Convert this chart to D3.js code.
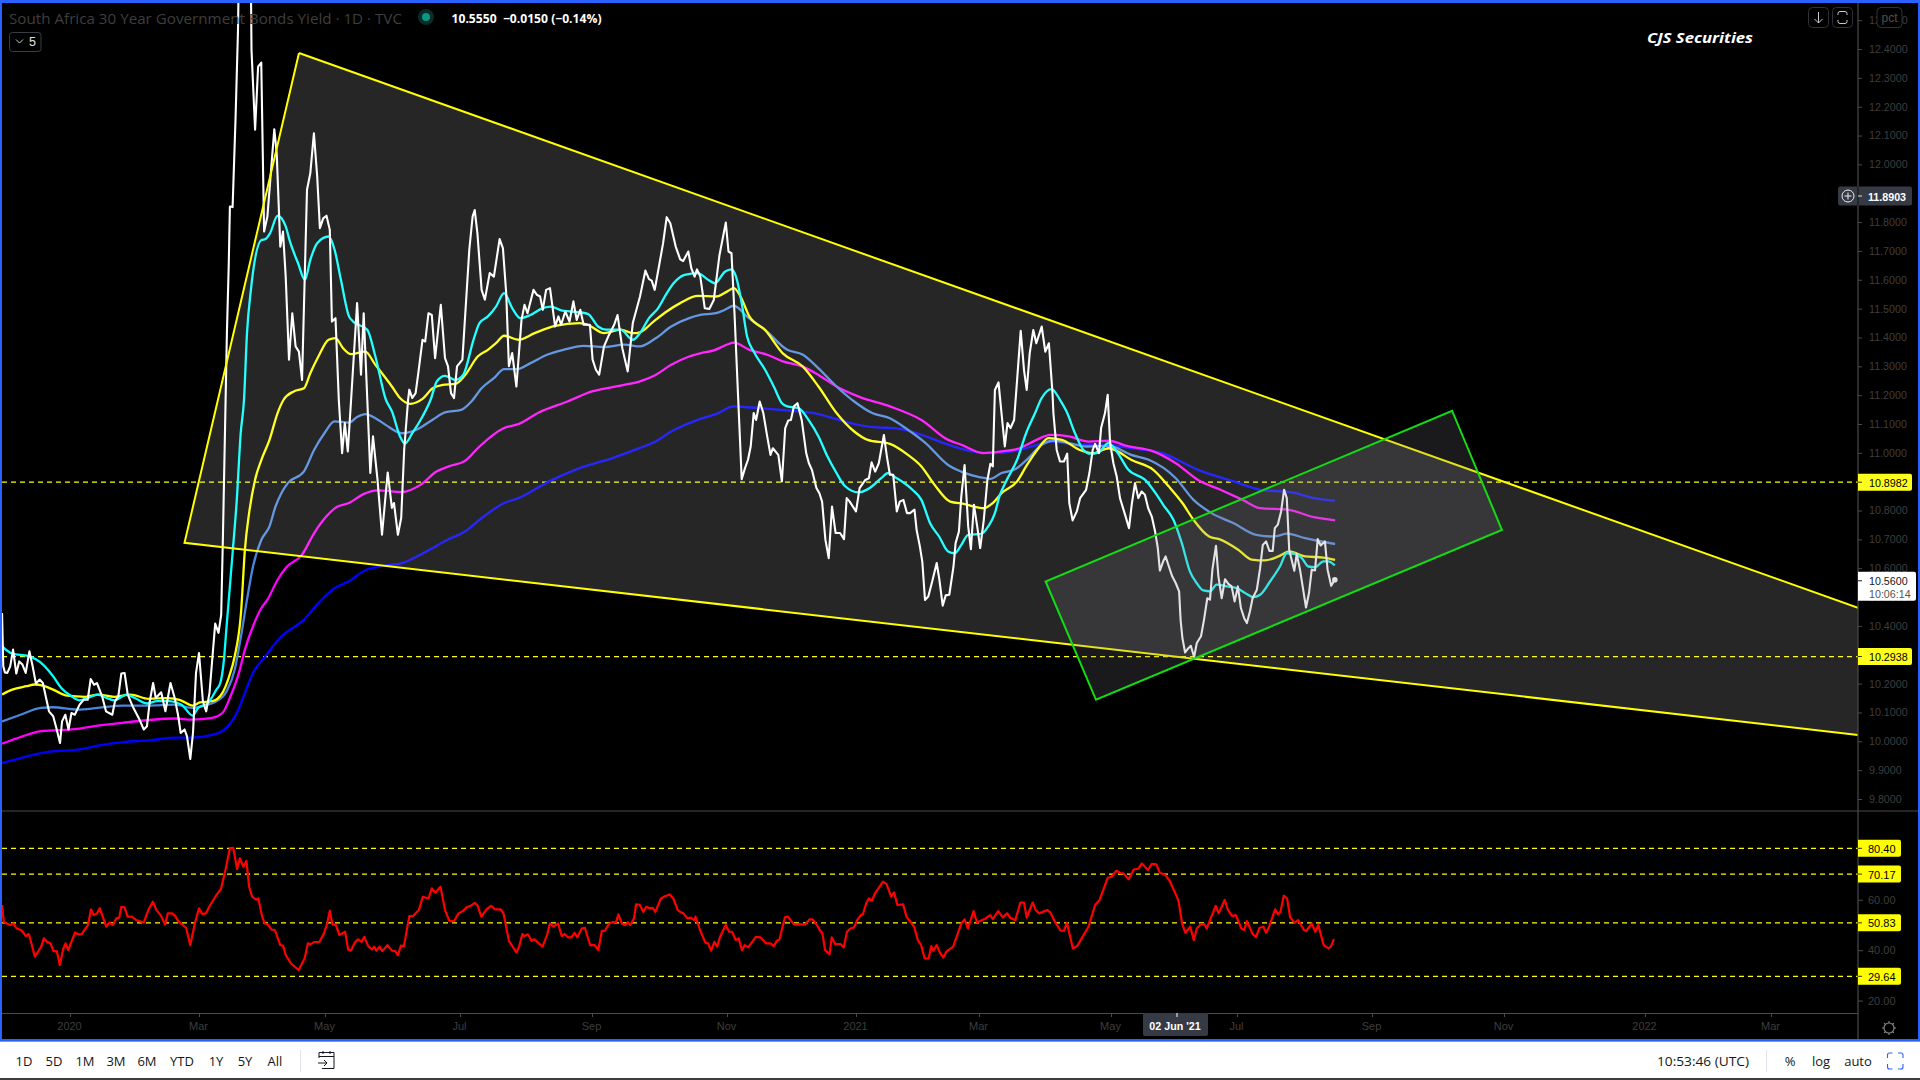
<!DOCTYPE html>
<html><head><meta charset="utf-8"><title>South Africa 30 Year Government Bonds Yield</title>
<script src="https://cdn.jsdelivr.net/npm/d3@7"></script>
<style>html,body{margin:0;padding:0;background:#000;overflow:hidden}svg{display:block}</style>
</head><body><svg id="c" width="1920" height="1080"></svg>
<script>
// ---- data: [bar index, value] ----
const closeYield=[[-.65,10.445],[-.24,10.26],[.3,10.239],[1.1,10.237],[2.07,10.26],[3.02,10.318],[4.1,10.235],[5.07,10.277],[6.15,10.266],[7.24,10.237],[8.46,10.312],[9.55,10.26],[10.64,10.2],[11.87,10.214],[12.95,10.202],[13.9,10.156],[15,10.104],[16.4,10.087],[17.45,10.046],[18.67,9.994],[19.35,10.069],[20.44,10.092],[21.5,10.041],[22.5,10.098],[23.6,10.092],[25.2,10.127],[26.56,10.144],[27.9,10.144],[28.9,10.216],[30,10.196],[31,10.202],[32.7,10.156],[34,10.104],[36.1,10.092],[37,10.139],[38.1,10.156],[39.1,10.235],[40.2,10.237],[41.25,10.162],[42.9,10.121],[44.9,10.081],[46.6,10.041],[47.65,10.052],[48.6,10.139],[49.7,10.202],[50.6,10.15],[52.4,10.17],[53.8,10.104],[55.5,10.202],[56.9,10.15],[58,10.092],[58.9,10.029],[60.2,10.041],[61,10.017],[62.1,9.939],[63,10.029],[64,10.237],[65,10.306],[66.3,10.139],[67.4,10.104],[68.5,10.168],[70.4,10.408],[71.5,10.376],[72.4,10.439],[73,10.722],[74.3,11.415],[74.9,11.646],[75.3,11.854],[76.2,11.852],[77.2,12.166],[78,12.466],[78.3,12.685],[80.3,12.916],[82.3,12.628],[82.5,12.397],[83.7,12.12],[84.7,12.339],[85.75,12.353],[86.7,11.767],[87.8,11.819],[90.1,12.122],[90.9,12.039],[92.1,11.715],[93,11.767],[93.9,11.611],[95,11.323],[96.1,11.484],[97.2,11.369],[98.3,11.351],[99.35,11.253],[101,11.912],[102.1,11.969],[103.3,12.108],[104.4,11.958],[105.3,11.779],[106.4,11.813],[107.5,11.822],[108.6,11.773],[109.3,11.455],[110.5,11.467],[111.6,11.184],[112.7,10.999],[113.6,11.103],[114.6,11.005],[115.7,11.184],[117.7,11.519],[119,11.271],[119.9,11.484],[121.1,11.184],[122.1,10.93],[123,11.057],[124.5,10.907],[126,10.716],[127.9,10.932],[129.3,10.809],[130,10.826],[131.3,10.716],[132.4,10.774],[133.4,11.011],[134.7,11.184],[135.1,11.219],[136.1,11.19],[137.2,11.207],[138.1,11.276],[139.5,11.392],[140.4,11.386],[141.5,11.484],[142.6,11.478],[143.7,11.328],[145.6,11.513],[147,11.328],[148,11.3],[149,11.207],[150,11.19],[151,11.3],[152.8,11.323],[155.1,11.704],[156.2,11.819],[156.9,11.842],[157.8,11.762],[159.2,11.565],[160.3,11.531],[161.9,11.623],[163.3,11.611],[165.2,11.741],[166.3,11.71],[167.4,11.554],[168.3,11.3],[169.4,11.346],[170.8,11.23],[172.5,11.461],[173.5,11.513],[174.5,11.484],[176.5,11.565],[177.6,11.548],[178.7,11.542],[179.6,11.496],[180.7,11.565],[182,11.571],[183.7,11.438],[184.8,11.473],[185.7,11.444],[187.1,11.49],[188.5,11.455],[189.8,11.525],[190.9,11.461],[192.1,11.496],[193.2,11.444],[195.3,11.444],[196.2,11.323],[197.3,11.288],[198.4,11.271],[200,11.369],[201.4,11.403],[203.4,11.444],[204.5,11.478],[206.1,11.363],[207.9,11.282],[209.6,11.45],[212,11.542],[213.8,11.632],[215,11.602],[215.9,11.597],[216.9,11.565],[218.4,11.651],[219.7,11.727],[220.9,11.817],[222.1,11.796],[223.9,11.715],[225.4,11.671],[226.4,11.665],[228.1,11.698],[229.1,11.64],[230.2,11.611],[231,11.636],[232.1,11.611],[233.6,11.501],[235.1,11.499],[236.6,11.53],[238.5,11.686],[240.6,11.798],[241.5,11.698],[242.5,11.692],[243.5,11.484],[244.7,11.195],[245.9,10.909],[247,10.947],[248,10.976],[248.9,11.022],[249.9,11.138],[250.7,11.114],[251.9,11.178],[253.1,11.138],[254.4,11.057],[255.5,10.993],[256.3,11.016],[258.1,10.993],[259.3,10.901],[260.4,11.086],[261.4,11.112],[262.3,11.114],[263.3,11.161],[264.5,11.172],[265.9,11.114],[267.4,10.999],[268.3,10.964],[269.3,10.941],[270.8,10.878],[271.8,10.86],[272.7,10.831],[273.8,10.699],[274.9,10.635],[276,10.814],[277.2,10.722],[278.7,10.722],[280,10.701],[280.9,10.843],[281.9,10.831],[284,10.797],[285.2,10.878],[287.1,10.906],[288.3,10.912],[289.2,10.967],[290.4,10.935],[291.6,10.964],[293.3,11.062],[294.3,10.987],[295.3,10.924],[296.4,10.924],[297.6,10.797],[298.6,10.831],[299.8,10.837],[301,10.791],[302,10.791],[303.5,10.803],[304.2,10.733],[305.3,10.675],[306.1,10.623],[307,10.49],[308.1,10.502],[309.4,10.554],[310.9,10.618],[311.8,10.56],[312.9,10.47],[313.9,10.506],[315.1,10.508],[316.5,10.606],[317.2,10.687],[318.3,10.727],[319.1,10.849],[320.2,10.958],[321.4,10.745],[322.3,10.666],[323.3,10.82],[324.4,10.745],[325.4,10.67],[326.6,10.768],[327.8,10.906],[328.8,10.962],[329.6,10.953],[330.3,11.218],[331.5,11.244],[332.5,11.138],[333.6,11.022],[334.5,11.103],[335.5,11.086],[336.7,11.114],[337.7,11.253],[338.9,11.423],[340,11.288],[340.9,11.218],[341.9,11.345],[343.1,11.426],[344.1,11.38],[345.9,11.438],[347.1,11.351],[348.3,11.38],[349.5,11.207],[349.8,11.138],[350.9,11.01],[352,10.97],[353.3,10.97],[354.4,10.997],[355.1,10.826],[356.2,10.766],[357.6,10.797],[358.7,10.843],[360.7,10.872],[361.8,10.93],[362.9,11.01],[363.7,11.031],[365,10.999],[365.7,11.086],[367,11.138],[367.9,11.201],[368.7,11.034],[369.8,10.964],[370.9,10.918],[372,10.843],[373.7,10.785],[375,10.739],[375.9,10.82],[377,10.895],[378.1,10.843],[379.2,10.866],[380.3,10.855],[381.4,10.808],[382.6,10.779],[383.7,10.727],[384.6,10.67],[385.3,10.592],[386.4,10.624],[387.2,10.641],[388.1,10.612],[389.4,10.572],[390.6,10.548],[391.7,10.52],[392.2,10.421],[392.8,10.358],[393.7,10.308],[394.8,10.323],[395.6,10.331],[396.7,10.292],[397.6,10.341],[399,10.364],[400,10.421],[401.1,10.496],[402,10.491],[402.8,10.595],[404,10.678],[404.8,10.572],[405.9,10.496],[407,10.562],[408.1,10.546],[409.2,10.537],[410.2,10.485],[411.3,10.537],[412.3,10.462],[413.4,10.427],[414.3,10.41],[415.3,10.45],[416.2,10.496],[417.6,10.525],[418.7,10.6],[419.6,10.681],[420.7,10.693],[421.8,10.66],[422.9,10.66],[423.6,10.739],[424.6,10.751],[425.7,10.797],[426.7,10.872],[427.6,10.843],[428.4,10.664],[429.2,10.629],[430.1,10.591],[430.9,10.65],[432,10.595],[434,10.464],[435,10.514],[435.9,10.595],[437,10.592],[437.9,10.701],[438.9,10.679],[440.3,10.693],[441.2,10.595],[442.4,10.539],[443.6,10.56]];
const maCyan=[[-.65,10.329],[2.75,10.304],[8.2,10.295],[13,10.266],[16.4,10.225],[19.1,10.185],[22.5,10.156],[25.2,10.142],[27.9,10.15],[31.3,10.162],[34.3,10.15],[36.8,10.142],[40.8,10.162],[43.6,10.15],[47.6,10.131],[51,10.139],[55.1,10.139],[59.2,10.127],[62.9,10.089],[64.7,10.116],[68,10.133],[70.8,10.179],[72.1,10.202],[73.2,10.272],[74.2,10.399],[76.2,10.653],[77.6,10.838],[78.9,11.068],[80,11.184],[81,11.415],[82.3,11.565],[85.8,11.738],[87.1,11.741],[88.7,11.762],[91.2,11.822],[92.5,11.813],[93.9,11.785],[95.3,11.733],[98,11.658],[100.3,11.6],[102.1,11.669],[104.4,11.727],[108.2,11.75],[110.2,11.704],[112.3,11.6],[115,11.473],[116.4,11.455],[121.1,11.427],[123.8,11.334],[127.3,11.184],[129.3,11.144],[132,11.057],[133.6,11.032],[136.1,11.068],[139.5,11.126],[142.2,11.184],[144.3,11.248],[147,11.267],[150.4,11.253],[153.1,11.271],[156.5,11.392],[158.5,11.45],[161.3,11.473],[164,11.507],[166.7,11.554],[169.4,11.502],[172.1,11.467],[175.5,11.478],[179.6,11.502],[182.3,11.507],[185.7,11.494],[189.1,11.49],[194.6,11.482],[198,11.438],[200.7,11.427],[205.5,11.427],[209.6,11.392],[212,11.415],[215,11.467],[218,11.501],[220.9,11.553],[223.2,11.588],[226.9,11.617],[231.3,11.623],[234.3,11.603],[237,11.588],[240.3,11.628],[242.5,11.636],[244,11.611],[245.9,11.519],[247.7,11.403],[249.9,11.351],[253.7,11.288],[256.6,11.23],[259.3,11.172],[261.1,11.161],[264.8,11.155],[268.5,11.109],[271.5,11.057],[274.5,10.987],[277.5,10.93],[280.2,10.886],[284.9,10.863],[288.6,10.878],[292.4,10.912],[294.6,10.93],[297.6,10.912],[302.8,10.872],[305.8,10.837],[308.7,10.756],[311.7,10.71],[314.7,10.658],[316.9,10.652],[319.1,10.681],[321.4,10.716],[325.8,10.719],[328.1,10.745],[330.3,10.791],[331.8,10.849],[334,10.901],[337.7,10.976],[340.7,11.068],[343.7,11.138],[345.9,11.19],[349.2,11.221],[352,11.184],[354.2,11.143],[357,11.068],[359.8,11.01],[362,10.997],[364.8,11.001],[368.1,11.034],[370.9,11.005],[374.8,10.941],[380.3,10.907],[384.2,10.855],[386.4,10.82],[389.8,10.768],[392.6,10.687],[395.3,10.589],[397.6,10.548],[399.8,10.523],[402,10.52],[404.2,10.543],[407.6,10.537],[410.9,10.531],[413.7,10.514],[416.4,10.5],[418.7,10.508],[422,10.554],[425.3,10.606],[427.6,10.652],[430.3,10.65],[432.6,10.635],[434.8,10.606],[437,10.604],[439.8,10.624],[441.4,10.624],[443.6,10.61]];
const maYellow=[[-.65,10.162],[2.75,10.179],[7.5,10.191],[10.2,10.197],[13,10.193],[16.4,10.179],[21.1,10.158],[27.2,10.154],[31.3,10.162],[36.8,10.154],[42.2,10.162],[48.3,10.147],[54.5,10.15],[58.5,10.144],[63,10.124],[65.3,10.135],[69.4,10.139],[72.8,10.168],[74.9,10.22],[76.9,10.295],[79,10.445],[80.3,10.664],[81.7,10.791],[83.7,10.907],[85.8,10.976],[88.5,11.045],[91.2,11.138],[93.2,11.184],[96.6,11.213],[100,11.224],[102.1,11.276],[104.8,11.334],[108.2,11.392],[110.5,11.398],[113,11.363],[115.7,11.342],[120.4,11.351],[123.8,11.305],[129.3,11.23],[132,11.19],[135.4,11.17],[139.5,11.187],[142.9,11.224],[146.3,11.236],[150.4,11.239],[153.8,11.271],[157.9,11.334],[161.3,11.357],[164,11.38],[166.7,11.406],[171.5,11.392],[176.9,11.415],[183.7,11.44],[191.9,11.45],[194.6,11.444],[200,11.415],[205.5,11.427],[209.6,11.415],[212,11.418],[216.5,11.455],[220.9,11.49],[225.4,11.519],[231.3,11.544],[237.3,11.542],[241,11.559],[243.3,11.571],[245.5,11.542],[248.5,11.472],[253.7,11.426],[259.6,11.345],[266.3,11.299],[271.5,11.23],[277.5,11.138],[283.4,11.074],[287.9,11.045],[295.3,11.031],[301.3,10.993],[305.8,10.953],[310.2,10.889],[315.4,10.831],[319.9,10.823],[326.6,10.808],[329.6,10.826],[332.5,10.86],[337.7,10.901],[340.7,10.953],[344.4,11.01],[348.2,11.051],[352.6,11.045],[358.6,11.01],[363,10.999],[368.3,11.016],[371.2,11.005],[375.7,10.976],[383.1,10.941],[388.3,10.883],[392.8,10.826],[396.5,10.768],[401.7,10.71],[405.5,10.699],[411.4,10.664],[415.9,10.63],[420.3,10.627],[424.8,10.641],[428.5,10.658],[433.7,10.641],[439.7,10.637],[443.7,10.629]];
const maSteel=[[-.65,10.069],[5.5,10.092],[12.3,10.116],[16.4,10.118],[24.5,10.11],[31.3,10.116],[39.5,10.124],[47.65,10.124],[57.2,10.127],[62.6,10.116],[66.7,10.124],[70.8,10.139],[74.2,10.173],[76.9,10.248],[79,10.364],[81,10.491],[83,10.606],[85.8,10.699],[88.5,10.745],[90.5,10.814],[92.5,10.861],[94.6,10.895],[100,10.936],[103.4,11.011],[106.8,11.068],[110.2,11.109],[115,11.105],[117.7,11.124],[120.4,11.134],[123.8,11.12],[127.2,11.097],[132.7,11.068],[137.4,11.08],[142.9,11.115],[147,11.14],[152.4,11.149],[155.8,11.178],[159.2,11.224],[163.3,11.259],[166.7,11.29],[170.8,11.29],[175.5,11.311],[181,11.34],[186.4,11.357],[193.2,11.371],[200,11.367],[206.8,11.375],[212,11.369],[217.2,11.397],[222.4,11.438],[228.4,11.467],[232.1,11.478],[237.3,11.484],[240.3,11.496],[243.3,11.51],[247.7,11.472],[253.7,11.426],[261.1,11.357],[266.3,11.34],[271.5,11.293],[277.5,11.23],[283.4,11.178],[289.4,11.138],[295.3,11.12],[301.3,11.08],[307.2,11.034],[314.7,10.958],[319.1,10.935],[325.1,10.916],[328.8,10.91],[332.5,10.93],[337,10.943],[341.5,10.982],[345.9,11.028],[349.6,11.042],[354.9,11.034],[360.8,11.022],[368.3,11.024],[375.7,10.993],[381.6,10.976],[390.6,10.912],[396.5,10.837],[402.5,10.791],[409.9,10.756],[417.4,10.716],[423.3,10.71],[427.8,10.72],[433.7,10.704],[443.7,10.684]];
const maMagenta=[[-.65,9.992],[5.5,10.015],[12.3,10.035],[24.5,10.043],[31.3,10.054],[39.5,10.064],[47.65,10.073],[57.2,10.079],[62.6,10.075],[69.4,10.081],[72.8,10.098],[75.5,10.156],[78.3,10.237],[80.3,10.318],[83,10.399],[85.8,10.462],[87.8,10.491],[91.2,10.56],[93.9,10.601],[99.35,10.647],[103.4,10.722],[107.5,10.78],[110.9,10.812],[115,10.826],[119.8,10.857],[124.5,10.87],[132.7,10.864],[138.8,10.889],[144.3,10.936],[148.3,10.953],[153.8,10.973],[158.5,11.022],[166.7,11.086],[171.5,11.1],[178.3,11.14],[187.8,11.178],[196,11.213],[205.5,11.233],[212,11.248],[217.2,11.27],[222.4,11.305],[228.4,11.334],[232.1,11.345],[236.6,11.355],[240.3,11.372],[243.3,11.382],[248.5,11.357],[254.4,11.34],[259.6,11.317],[266.3,11.299],[271.5,11.27],[277.5,11.23],[284.9,11.195],[295.3,11.161],[305.8,11.114],[314.7,11.045],[319.1,11.028],[326.6,10.999],[332.5,11.005],[338.5,11.016],[343,11.039],[348.9,11.062],[354.9,11.057],[361.6,11.039],[368.3,11.042],[374.2,11.024],[383.1,11.005],[390.6,10.964],[398,10.906],[405.5,10.872],[412.9,10.837],[418.8,10.808],[427.8,10.803],[436.7,10.777],[443.7,10.766]];
const maBlue=[[-.65,9.925],[5.5,9.942],[13.6,9.962],[24.5,9.971],[31.3,9.985],[39.5,9.997],[49,10.004],[57.2,10.013],[62.6,10.013],[69.4,10.022],[73.5,10.041],[77.6,10.098],[80.3,10.168],[83,10.237],[87.1,10.295],[92.5,10.364],[100,10.422],[104.8,10.479],[110.2,10.531],[115,10.555],[120.4,10.593],[127.2,10.609],[132.7,10.618],[140.2,10.655],[148.3,10.701],[153.8,10.728],[158.5,10.768],[166.7,10.826],[171.5,10.843],[181.7,10.901],[191.9,10.947],[202.8,10.982],[212,11.017],[217.2,11.039],[222.4,11.074],[228.4,11.103],[232.1,11.118],[237.3,11.134],[243.3,11.161],[247.7,11.158],[261.1,11.147],[270,11.138],[277.5,11.117],[283.4,11.1],[290.9,11.088],[296.8,11.086],[304.3,11.068],[313.2,11.034],[319.1,11.014],[329.6,10.999],[338.5,11.01],[344.4,11.028],[349.6,11.039],[357.8,11.028],[366.8,11.028],[375.7,11.016],[386.1,10.999],[398,10.941],[409.9,10.901],[418.8,10.872],[429.3,10.863],[436.7,10.843],[443.7,10.834]];
const rsiValues=[[-.6,57.9],[-.1,51.3],[.9,50.6],[2,50],[3.1,50.6],[4.2,48.6],[5.7,48],[7.3,45.6],[8.3,46.4],[10.3,37.4],[12.4,41.4],[13.3,44.7],[14.3,43.3],[15.5,42.7],[16.5,39.6],[17.6,39.6],[18.6,34.1],[19.8,40.7],[20.5,42.7],[21.4,40],[23.7,47],[24.7,46.3],[25.9,46.4],[28,50],[29,56.2],[29.9,53.9],[31,54.6],[31.9,56.6],[34.1,49.3],[35.1,50.9],[36.3,50],[37.4,52.6],[38.4,52.9],[39.1,57.2],[40.2,57],[41.2,53.3],[42.6,53.3],[44.1,51.9],[46.6,51],[48.1,55.9],[49.6,59.2],[50.8,55.9],[52.2,53.9],[53.7,50.2],[54.6,54.6],[56,54.6],[57.1,53.5],[58.2,51.3],[60.7,48.9],[62.1,42],[63.6,50.6],[65,56.6],[66.1,54.3],[67.3,54.6],[68.6,57.6],[70.8,61.9],[72.3,64.2],[73.8,71.8],[75.3,80.4],[76.4,80.6],[77.7,72.2],[78.6,76.4],[79.8,73.1],[80.8,75.4],[81.7,65.2],[82.7,61.2],[84,60.1],[84.8,60.5],[86,53.5],[86.9,50.6],[88,50.2],[89.1,48.2],[90.3,48],[92.1,42],[93,41.8],[94,37.8],[95.7,34.7],[98.2,32.1],[100.2,36.7],[101.3,42.7],[102.1,42.3],[103.3,43.2],[105.2,43.3],[106.6,46.6],[107.6,50],[108.6,55.6],[109.5,50.2],[110.6,50],[111.8,46],[113.7,47.3],[114.7,40.3],[115.6,39.8],[117,43.1],[118,44.3],[119.2,43.3],[120.1,45.3],[121.4,41.6],[122.6,40.3],[123.4,41.4],[124.1,39.8],[125.2,41.4],[126.1,39.6],[127.8,42],[129.3,39.8],[130.4,39.6],[131.3,38],[132.3,41.8],[133.3,41.6],[135.1,53.5],[136.3,53.5],[138.3,55.9],[139.6,61.2],[141.5,60.5],[142.6,64.5],[143.8,62.8],[145.5,65.2],[147,55.9],[148.5,51.5],[150,51.5],[151.5,54.6],[153,55.5],[154.2,57],[155.4,57.5],[156.9,58.8],[157.9,57.6],[159.1,53.3],[160.9,56.3],[162.4,57.6],[163.6,56.2],[165.6,56.2],[166.5,54.6],[168.3,43.7],[170.8,39.1],[171.7,41.4],[172.8,46.4],[173.5,45.6],[174.7,46.3],[175.8,43.7],[176.8,44.3],[179.5,41.4],[181,46],[182,50.6],[183.2,49.3],[184.7,50.6],[185.9,45.6],[186.9,46.4],[188,45.1],[189.1,45.1],[190.2,46.9],[191.1,45.1],[192.6,48.6],[193.6,48.9],[195.4,42],[196.9,42],[198.1,40],[199.3,47.7],[200.3,47.7],[201.8,50.6],[202.8,51.1],[204,51],[204.8,54.2],[206,50.4],[207,50],[208,51],[208.8,50],[210,52.6],[210.7,58.2],[211.9,58],[213.1,55.2],[214.1,57.2],[215.2,56.6],[216.2,56.8],[217.1,55.2],[218.9,60.3],[220.1,61.3],[221.9,62.1],[223.1,60.5],[224.6,55.9],[225.6,55],[226.4,54.7],[227.8,52.6],[228.9,52.9],[230.1,51.9],[230.5,53.3],[232,48],[233.8,43],[234.7,42.7],[235.7,39.8],[236.8,43.3],[237.7,41.4],[238.7,45.3],[240.6,50],[241.7,47.3],[242.7,47.3],[243.9,44],[244.9,44.7],[246,40],[246.9,42],[248.1,41.1],[250.6,45.3],[252.1,45.1],[254,42.7],[255.5,42.7],[256.6,41.6],[257.6,43.7],[258.5,44.3],[260.3,53],[261.3,53.3],[263.3,50.2],[267,50.2],[268.5,52.2],[269.5,52.2],[271,50],[271.9,48],[272.8,46.6],[273.7,40],[275.2,38.4],[275.9,45.1],[277.1,42.4],[278.9,42.4],[279.9,41.1],[281,47.3],[282.1,48.6],[283.3,49],[284.4,51.9],[285.6,53.9],[286.3,54.2],[287.4,58.6],[288.3,60.5],[289.3,59.6],[290.3,62.5],[291.5,64.5],[293,67.2],[294.2,66.2],[295.7,61.2],[296.7,62.9],[297.8,57.9],[299.7,58.2],[300.8,53.3],[303.4,49.3],[304.6,44],[305.7,42],[306.9,36.7],[308.2,36.7],[309.1,41.6],[309.8,39.8],[310.9,42],[312.1,38.7],[313.1,37.1],[314.1,39.4],[316.4,41.4],[319.1,50.6],[320.2,52.2],[321.3,48.6],[323.2,55.5],[324.3,51],[327.2,52.6],[328.7,53.9],[329.6,52.3],[331.4,55.5],[332.9,53],[334.4,54.6],[335.4,52.9],[337.1,51.9],[338.8,58.9],[340,58.9],[340.9,52.9],[342.9,58.9],[343.9,55.9],[345.1,54.6],[347.8,55.9],[348.8,54.9],[350.3,51.3],[352.2,47.7],[353.3,47.7],[354.3,50.9],[356.3,40.7],[357.7,41.6],[361.5,49.3],[363.7,57.9],[365.2,59.9],[366.4,63.8],[367.9,68.7],[369.2,69.1],[370.8,71.5],[372.2,70.5],[373.1,70.5],[374.9,68.1],[376.6,72],[378.1,72.3],[379.3,74.4],[381.3,71.8],[382.6,74.2],[384.1,74],[385.3,70.7],[387.1,69.8],[388.5,67.6],[390.2,63.2],[391.5,59.6],[392.7,50.6],[393.8,46.9],[395.4,49.3],[396.6,44],[397.6,48.6],[399,50.4],[400.2,50.2],[400.9,48.6],[403.9,57.6],[404.9,54.6],[406.9,59.9],[408,55.9],[409.4,53.5],[410.6,53.9],[412.5,48.6],[413.4,48],[414.3,51.5],[416.2,46.4],[417.3,45.1],[418.5,48.9],[419.8,49.3],[420.7,46.9],[421.7,49.3],[423.7,56.2],[424.7,54.2],[425.5,55.2],[426.6,61.6],[427.7,60.5],[428.7,53],[430.2,50.9],[431.4,51.9],[433.3,48],[434.1,47.6],[435.9,50.6],[437.1,47.3],[438.1,50],[439.9,42],[441.5,40.7],[442.3,41.4],[443.3,44.4]];
const wedgePoints=[[98.33,12.386],[60.17,10.688],[618,10.022],[618,10.463]];
const channelPoints=[[347.2,10.554],[364,10.144],[499.3,10.733],[482.7,11.146]];
const priceLevels=[10.8982,10.2938];
const rsiLevels=[80.40,70.17,50.83,29.64];
const priceTicks=[9.8,9.9,10,10.1,10.2,10.3,10.4,10.5,10.6,10.7,10.8,10.9,11,11.1,11.2,11.3,11.4,11.5,11.6,11.7,11.8,11.9,12,12.1,12.2,12.3,12.4,12.5];
const rsiTicks=[20,40,60];
const timeTickBars=[22,65,107,152,196,241,284,325,369,411,456,500,547,589];
const timeTickLabels=["2020","Mar","May","Jul","Sep","Nov","2021","Mar","May","Jul","Sep","Nov","2022","Mar"];
const crossBar=391, crossPrice=11.8903, lastPrice=10.56;
const rangeButtons=[["1D",24],["5D",54],["1M",85],["3M",116],["6M",147],["YTD",182],["1Y",216],["5Y",245],["All",275]];

// ---- scales ----
const AX=1858, F="'Liberation Sans',Arial,sans-serif";
const x=d3.scaleLinear().domain([0,618]).range([4,AX]);
const y=d3.scaleLinear().domain([9.8,12.4]).range([799,49]);
const r=d3.scaleLinear().domain([29.64,80.4]).range([976.3,848.3]);
const svg=d3.select("#c");
svg.append("rect").attr("width",1920).attr("height",1080).attr("fill","#000");
const defs=svg.append("defs");
defs.append("clipPath").attr("id","mainClip").append("rect").attr("x",2).attr("y",3).attr("width",AX-2).attr("height",808);
defs.append("clipPath").attr("id","rsiClip").append("rect").attr("x",2).attr("y",812).attr("width",AX-2).attr("height",201);
const main=svg.append("g").attr("clip-path","url(#mainClip)");
const rsi=svg.append("g").attr("clip-path","url(#rsiClip)");
const lin=d3.line().x(d=>x(d[0])).y(d=>y(d[1]));
const smooth=d3.line().x(d=>x(d[0])).y(d=>y(d[1])).curve(d3.curveMonotoneX);

// ---- level lines ----
main.selectAll(".lv").data(priceLevels).join("line").attr("x1",2).attr("x2",AX).attr("y1",d=>y(d)).attr("y2",d=>y(d))
 .attr("stroke","#ffff00").attr("stroke-width",1.3).attr("stroke-dasharray","5 4");
rsi.selectAll(".lv").data(rsiLevels).join("line").attr("x1",2).attr("x2",AX).attr("y1",d=>r(d)).attr("y2",d=>r(d))
 .attr("stroke","#ffff00").attr("stroke-width",1.3).attr("stroke-dasharray","5 4");

// ---- series ----
[[maBlue,"#0000ff"],[maMagenta,"#ff00ff"],[maSteel,"#4a86dc"],[maYellow,"#ffff00"],[maCyan,"#00ffff"]].forEach(([s,c])=>{
 main.append("path").attr("d",smooth(s)).attr("fill","none").attr("stroke",c).attr("stroke-width",2.3);
});
main.append("path").attr("d",lin(closeYield)).attr("fill","none").attr("stroke","#fff").attr("stroke-width",2.1).attr("stroke-linejoin","round");
const last=closeYield[closeYield.length-1];
main.append("circle").attr("cx",x(last[0])).attr("cy",y(last[1])).attr("r",2.8).attr("fill","#fff");

// ---- drawings over the series ----
main.append("path").attr("d",lin(wedgePoints)+"Z").attr("fill","rgba(255,255,255,.15)");
main.append("path").attr("d",lin(wedgePoints.slice(0,3))).attr("fill","none").attr("stroke","#ffff00").attr("stroke-width",2);
main.append("path").attr("d",lin([wedgePoints[0],wedgePoints[3]])).attr("fill","none").attr("stroke","#ffff00").attr("stroke-width",2);
main.append("path").attr("d",lin(channelPoints)+"Z").attr("fill","rgba(124,124,132,.21)").attr("stroke","#14dc14").attr("stroke-width",2);

// ---- rsi ----
rsi.append("path").attr("d",d3.line().x(d=>x(d[0])).y(d=>r(d[1]))(rsiValues)).attr("fill","none").attr("stroke","#ff0000").attr("stroke-width",2.2).attr("stroke-linejoin","round");

// ---- frame ----
const G="#4a4a4a";
svg.append("line").attr("x1",2).attr("x2",1918).attr("y1",811).attr("y2",811).attr("stroke",G).attr("stroke-width",1.2);
svg.append("line").attr("x1",2).attr("x2",AX).attr("y1",1013.5).attr("y2",1013.5).attr("stroke",G).attr("stroke-width",1.2);
svg.append("line").attr("x1",AX).attr("x2",AX).attr("y1",3).attr("y2",1039).attr("stroke",G).attr("stroke-width",1.2);

// ---- axes ----
function styleAxis(g,col,size){g.select(".domain").remove();g.selectAll("line").attr("stroke",G);
 g.selectAll("text").attr("fill",col).style("font-family",F).style("font-size",size+"px");}
const pa=svg.append("g").attr("transform",`translate(${AX},0)`).call(d3.axisRight(y).tickValues(priceTicks).tickFormat(d3.format(".4f")).tickSize(4).tickPadding(7));
styleAxis(pa,"#3e3e3e",10.7);
const ra=svg.append("g").attr("transform",`translate(${AX},0)`).call(d3.axisRight(r).tickValues(rsiTicks).tickFormat(d3.format(".2f")).tickSize(5).tickPadding(5));
styleAxis(ra,"#3e3e3e",11);
const ta=svg.append("g").attr("transform","translate(0,1013)").call(d3.axisBottom(x).tickValues(timeTickBars).tickFormat((d,i)=>timeTickLabels[i]).tickSize(4).tickPadding(3));
styleAxis(ta,"#3e3e3e",11);
ta.selectAll("text").attr("dy","0.95em").attr("dx",-1);

function tx(s,px,py,o={}){return svg.append("text").text(s).attr("x",px).attr("y",py).attr("dominant-baseline","central")
 .attr("text-anchor",o.a||"start").attr("fill",o.c||"#000").style("font-family",o.f||F).style("font-size",(o.s||10.7)+"px").style("font-weight",o.w||400).style("font-style",o.i||"normal");}

// level tags
priceLevels.forEach(v=>{const p=y(v);
 svg.append("path").attr("d",`M${AX} ${p-8.5}h52a2 2 0 0 1 2 2v13a2 2 0 0 1 -2 2h-52z`).attr("fill","#ffff1e");
 svg.append("line").attr("x1",AX).attr("x2",AX+4).attr("y1",p).attr("y2",p).attr("stroke","#333");
 tx(d3.format(".4f")(v),1869,p+.5);
});
rsiLevels.forEach(v=>{const p=r(v);
 svg.append("path").attr("d",`M${AX} ${p-8.5}h41a2 2 0 0 1 2 2v13a2 2 0 0 1 -2 2h-41z`).attr("fill","#ffff00");
 svg.append("line").attr("x1",AX).attr("x2",AX+4).attr("y1",p).attr("y2",p).attr("stroke","#333");
 tx(d3.format(".2f")(v),1868,p+.5,{s:11});
});
// crosshair price tag
{const p=y(crossPrice);
 svg.append("rect").attr("x",1838).attr("y",p-9.5).attr("width",74).attr("height",19).attr("rx",2).attr("fill","#363a45");
 svg.append("line").attr("x1",AX).attr("x2",AX).attr("y1",p-9.5).attr("y2",p+9.5).attr("stroke","#111").attr("stroke-width",1);
 svg.append("line").attr("x1",AX).attr("x2",AX+4).attr("y1",p).attr("y2",p).attr("stroke","#ddd");
 svg.append("circle").attr("cx",1848).attr("cy",p).attr("r",6).attr("fill","none").attr("stroke","#eee").attr("stroke-width",1);
 svg.append("path").attr("d",`M1844.5 ${p}h7M1848 ${p-3.5}v7`).attr("stroke","#eee").attr("stroke-width",1);
 tx(d3.format(".4f")(crossPrice),1868,p+.5,{c:"#fff",w:700});
}
// last price tag
{const p=y(lastPrice)+1;
 svg.append("path").attr("d",`M${AX} ${p-9}h56a2 2 0 0 1 2 2v25a2 2 0 0 1 -2 2h-56z`).attr("fill","#fff");
 svg.append("line").attr("x1",AX).attr("x2",AX+4).attr("y1",p).attr("y2",p).attr("stroke","#222");
 tx(d3.format(".4f")(lastPrice),1869,p+.5,{c:"#131722"});
 tx("10:06:14",1869,p+13.5,{c:"#555"});
}
// crosshair date tag
svg.append("rect").attr("x",1143).attr("y",1013).attr("width",65).attr("height",23).attr("rx",2).attr("fill","#363a45");
svg.append("line").attr("x1",x(crossBar)).attr("x2",x(crossBar)).attr("y1",1013).attr("y2",1017).attr("stroke","#fff");
tx("02 Jun '21",1175,1026,{a:"middle",c:"#fff",w:700,s:10.7});

// legend
tx("South Africa 30 Year Government Bonds Yield · 1D · TVC",9,18,{c:"#3e3e3e",s:14,f:"'Open Sans',sans-serif"}).attr("textLength",393).attr("lengthAdjust","spacingAndGlyphs");
svg.append("circle").attr("cx",426).attr("cy",17).attr("r",8).attr("fill","#0b2b2a");
svg.append("circle").attr("cx",426).attr("cy",17).attr("r",4).attr("fill","#089981");
tx("10.5550  −0.0150 (−0.14%)",451.5,18.5,{c:"#fff",s:12.5,w:700,f:"'Open Sans',sans-serif"}).attr("textLength",150).attr("lengthAdjust","spacingAndGlyphs").attr("xml:space","preserve");
svg.append("rect").attr("x",9.5).attr("y",32.5).attr("width",31.5).attr("height",19).attr("rx",3).attr("fill","#000").attr("stroke","#3a3d46");
svg.append("path").attr("d","M16 39.5l3.5 3.5 3.5-3.5").attr("fill","none").attr("stroke","#d0d2d8").attr("stroke-width",1);
tx("5",29,42,{c:"#e0e2e8",s:12.5});
tx("CJS Securities",1647,37,{c:"#fff",s:14.5,w:700,i:"italic",f:"'Open Sans',sans-serif"}).attr("textLength",106).attr("lengthAdjust","spacingAndGlyphs");

// top right buttons
[1808,1832].forEach(bx=>svg.append("rect").attr("x",bx+.5).attr("y",7.5).attr("width",20).attr("height",20).attr("rx",4).attr("fill","#000").attr("stroke","#2f323a"));
svg.append("path").attr("d","M1818.5 12v11M1814.5 19l4 4 4-4").attr("fill","none").attr("stroke","#c8cad0").attr("stroke-width",1);
svg.append("path").attr("d","M1838 15v-1.5a2 2 0 0 1 2-2h5a2 2 0 0 1 2 2v1.5M1838 20v1.5a2 2 0 0 0 2 2h5a2 2 0 0 0 2-2v-1.5").attr("fill","none").attr("stroke","#c8cad0").attr("stroke-width",1);
svg.append("rect").attr("x",1877).attr("y",7.5).attr("width",25).attr("height",20).attr("rx",4).attr("fill","#000").attr("stroke","#2f323a");
tx("pct",1889.5,17.5,{a:"middle",c:"#54504a",s:12});

// gear
{const g=svg.append("g").attr("transform","translate(1889,1028)").attr("fill","none").attr("stroke","#8a8c92").attr("stroke-width",1.1);
 g.append("circle").attr("r",5);
 d3.range(8).forEach(i=>{const a=i*Math.PI/4;g.append("line").attr("x1",5*Math.cos(a)).attr("y1",5*Math.sin(a)).attr("x2",7*Math.cos(a)).attr("y2",7*Math.sin(a));});
}

// blue frame
const B="#2962ff";
[[0,0,1920,3],[0,0,2,1041],[1918,0,2,1041],[0,1039,1920,2.5]].forEach(a=>svg.append("rect").attr("x",a[0]).attr("y",a[1]).attr("width",a[2]).attr("height",a[3]).attr("fill",B));

// bottom toolbar
svg.append("rect").attr("y",1041.5).attr("width",1920).attr("height",36.5).attr("fill","#fff");
svg.append("rect").attr("y",1078).attr("width",1920).attr("height",2).attr("fill","#3d3d3d");
const BF="'Open Sans','Liberation Sans',sans-serif", BC="#131722";
rangeButtons.forEach(([t,c])=>tx(t,c,1060.5,{a:"middle",c:BC,s:13,f:BF}));
svg.append("line").attr("x1",300.5).attr("x2",300.5).attr("y1",1050).attr("y2",1072).attr("stroke","#e0e3eb");
svg.append("path").attr("d","M319 1058v-5.5h15v16h-12M319 1056.5h15M323 1051v3M330 1051v3M318 1063h9M324 1060l3 3-3 3").attr("fill","none").attr("stroke",BC).attr("stroke-width",1);
tx("10:53:46 (UTC)",1657,1060.5,{c:BC,s:13,f:BF}).attr("textLength",92).attr("lengthAdjust","spacingAndGlyphs");
svg.append("line").attr("x1",1766.5).attr("x2",1766.5).attr("y1",1050).attr("y2",1072).attr("stroke","#e0e3eb");
tx("%",1790,1060.5,{a:"middle",c:BC,s:13,f:BF});
tx("log",1821,1060.5,{a:"middle",c:BC,s:13,f:BF});
tx("auto",1858,1060.5,{a:"middle",c:BC,s:13,f:BF});
svg.append("path").attr("d","M1887.5 1058v-3a2 2 0 0 1 2-2h3M1898 1053h3a2 2 0 0 1 2 2v3M1903 1064v3a2 2 0 0 1-2 2h-3M1892.5 1069h-3a2 2 0 0 1-2-2v-3").attr("fill","none").attr("stroke",B).attr("stroke-width",1.1);
</script></body></html>
